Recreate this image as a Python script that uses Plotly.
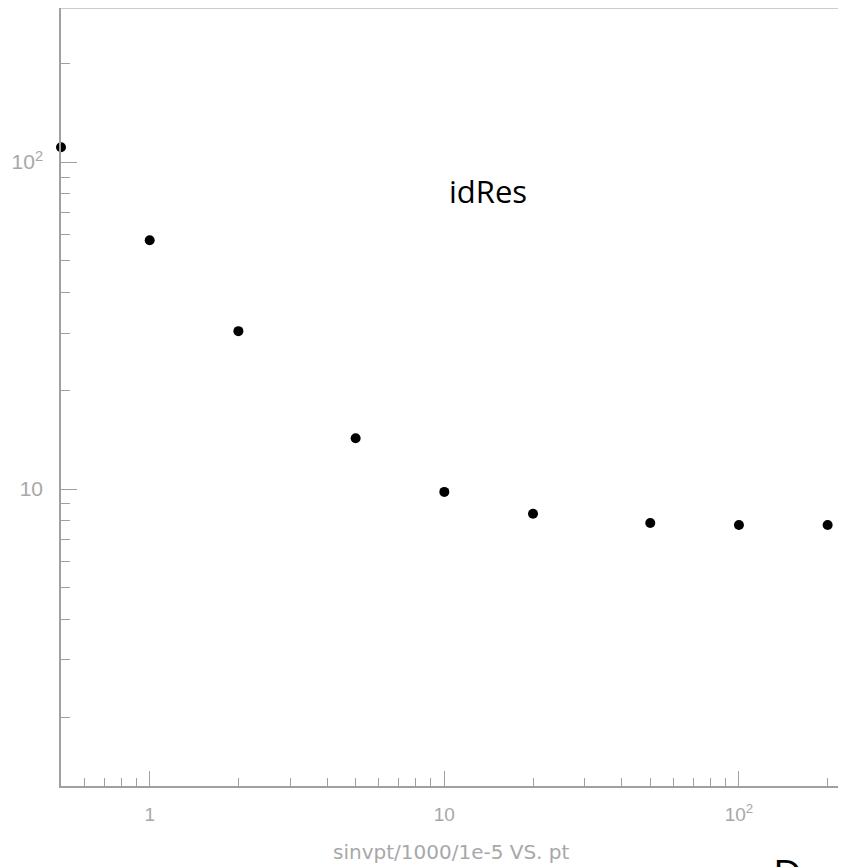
import math
import plotly.graph_objects as go

# Data
pt_values = [0.5, 1, 2, 5, 10, 20, 50, 100, 200]
id_res = [111, 57.7, 30.4, 14.3, 9.8, 8.4, 7.87, 7.76, 7.76]

x_tick_vals = [1, 10, 100]
x_tick_text = ["1", "10", "10<sup>2</sup>"]
y_tick_vals = [10, 100]
y_tick_text = ["10", "10<sup>2</sup>"]

x_minor = [0.6, 0.7, 0.8, 0.9, 2, 3, 4, 5, 6, 7, 8, 9, 20, 30, 40, 50, 60, 70, 80, 90, 200]
y_minor = [2, 3, 4, 5, 6, 7, 8, 9, 20, 30, 40, 50, 60, 70, 80, 90, 200]

x_range = [0.5, 222]
y_range = [1.235, 296]

axis_color = "#a0a0a0"
label_color = "#a8a8a8"

fig = go.Figure()
fig.add_trace(go.Scatter(
    x=pt_values, y=id_res, mode="markers",
    marker=dict(color="black", size=10, symbol="circle"),
    cliponaxis=False, showlegend=False,
))

fig.update_layout(
    width=834, height=859,
    margin=dict(l=53, r=1, t=0, b=81, autoexpand=False),
    paper_bgcolor="white", plot_bgcolor="white",
    font=dict(family="Liberation Sans", color=label_color, size=19),
    xaxis=dict(
        type="log",
        range=[math.log10(x_range[0]), math.log10(x_range[1])],
        showgrid=False, zeroline=False,
        showline=True, linecolor=axis_color, linewidth=1.5,
        ticks="inside", ticklen=15, tickcolor=axis_color, tickwidth=1,
        tickvals=x_tick_vals, ticktext=x_tick_text,
        tickfont=dict(family="Liberation Sans", size=19, color=label_color),
        ticklabelstandoff=10,
        minor=dict(ticks="inside", ticklen=8, tickcolor=axis_color, tickvals=x_minor, showgrid=False),
        automargin=False,
    ),
    yaxis=dict(
        type="log",
        range=[math.log10(y_range[0]), math.log10(y_range[1])],
        showgrid=False, zeroline=False,
        showline=True, linecolor=axis_color, linewidth=1.5,
        ticks="inside", ticklen=16, tickcolor=axis_color, tickwidth=1,
        tickvals=y_tick_vals, ticktext=y_tick_text,
        tickfont=dict(family="Liberation Sans", size=21, color=label_color),
        ticklabelstandoff=12,
        minor=dict(ticks="inside", ticklen=9, tickcolor=axis_color, tickvals=y_minor, showgrid=False),
        automargin=False,
    ),
    shapes=[
        dict(type="line", xref="paper", yref="paper", x0=0, x1=1, y0=1, y1=1,
             line=dict(color="#cccccc", width=2)),
        dict(type="line", xref="paper", yref="paper", x0=1, x1=1, y0=0, y1=1,
             line=dict(color="#cccccc", width=2)),
    ],
    annotations=[
        dict(text="sinvpt/1000/1e-5 VS. pt", xref="paper", yref="paper",
             x=0.5, y=-0.0848, xanchor="center", yanchor="middle", showarrow=False,
             font=dict(family="DejaVu Sans", size=20, color=label_color)),
        dict(text="idRes", xref="paper", yref="paper", x=0.547, y=0.765,
             xanchor="center", yanchor="middle",
             showarrow=False, font=dict(family="Open Sans", size=31, color="black")),
        dict(text="D", xref="paper", yref="paper", x=0.931, y=-0.0746,
             xanchor="center", yanchor="top", showarrow=False,
             font=dict(family="Open Sans", size=40, color="black")),
    ],
)

fig.write_html("out.html")
